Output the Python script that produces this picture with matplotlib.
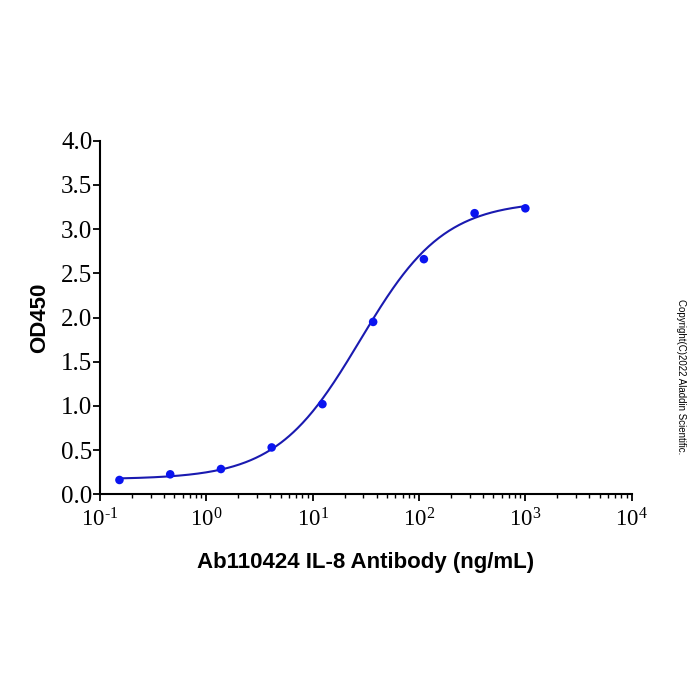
import numpy as np
import matplotlib
matplotlib.use("Agg")
import matplotlib.pyplot as plt
from matplotlib.ticker import FixedLocator, LogLocator, NullFormatter

plt.rcParams['mathtext.fontset'] = 'custom'
plt.rcParams['mathtext.rm'] = 'Liberation Serif'
plt.rcParams['mathtext.it'] = 'Liberation Serif:italic'
plt.rcParams['mathtext.bf'] = 'Liberation Serif:bold'

conc = [1000, 333.3, 111.1, 37.04, 12.35, 4.115, 1.372, 0.4572, 0.1524]
od = [3.235, 3.18, 2.66, 1.95, 1.02, 0.53, 0.286, 0.226, 0.162]

# 4PL fit parameters (bottom, top, EC50, hill)
fit_bottom, fit_top, fit_ec50, fit_hill = 0.17, 3.32, 28.0, 1.1

yticks = [0.0, 0.5, 1.0, 1.5, 2.0, 2.5, 3.0, 3.5, 4.0]
xexp = [-1, 0, 1, 2, 3, 4]


def exp_label(e):
    s = r'\text{-}%d' % (-e) if e < 0 else '%d' % e
    return r'$\mathregular{10^{%s}}$' % s


fig = plt.figure(figsize=(7, 7), dpi=100)
ax = fig.add_axes([100/700, 1-494.3/700, (631.7-100)/700, (494.3-140.7)/700])

xs = np.logspace(np.log10(min(conc)), np.log10(max(conc)), 400)
ys = fit_bottom + (fit_top - fit_bottom) / (1 + (fit_ec50 / xs) ** fit_hill)
ax.plot(xs, ys, color='#1a1ab0', lw=1.5, zorder=2)
ax.scatter(conc, od, s=38, color='#0a14f0', zorder=3, edgecolors='none')

ax.set_xscale('log')
ax.set_xlim(1e-1, 1e4)
ax.set_ylim(0, 4.0)
ax.xaxis.set_major_locator(FixedLocator([10.0**e for e in xexp]))
ax.xaxis.set_minor_locator(LogLocator(base=10, subs=np.arange(2, 10)))
ax.xaxis.set_minor_formatter(NullFormatter())
ax.set_xticks([10.0**e for e in xexp])
ax.set_xticklabels([exp_label(e) for e in xexp],
                   family='Liberation Serif', fontsize=16.5)
ax.set_yticks(yticks)
ax.set_yticklabels(['%.1f' % v for v in yticks], family='Liberation Serif', fontsize=18)

for sp in ['top', 'right']:
    ax.spines[sp].set_visible(False)
for sp in ['left', 'bottom']:
    ax.spines[sp].set_linewidth(1.5)
ax.tick_params(axis='y', which='major', length=5, width=1.3, direction='out', pad=0.5)
ax.tick_params(axis='x', which='major', length=5, width=1.3, direction='out', pad=5)
ax.tick_params(which='minor', length=3, width=1.0, direction='out')

ax.set_xlabel('Ab110424 IL-8 Antibody (ng/mL)', family='Liberation Sans',
              fontweight='bold', fontsize=16, labelpad=15)
ax.set_ylabel('OD450', family='Liberation Sans', fontweight='bold',
              fontsize=16, labelpad=8)

fig.text(681/700, 1-377/700, 'Copyright(C)2022 Aladdin Scientific.', rotation=270,
         ha='center', va='center', family='Liberation Sans', fontsize=7)

fig.savefig('out.png', dpi=100)
